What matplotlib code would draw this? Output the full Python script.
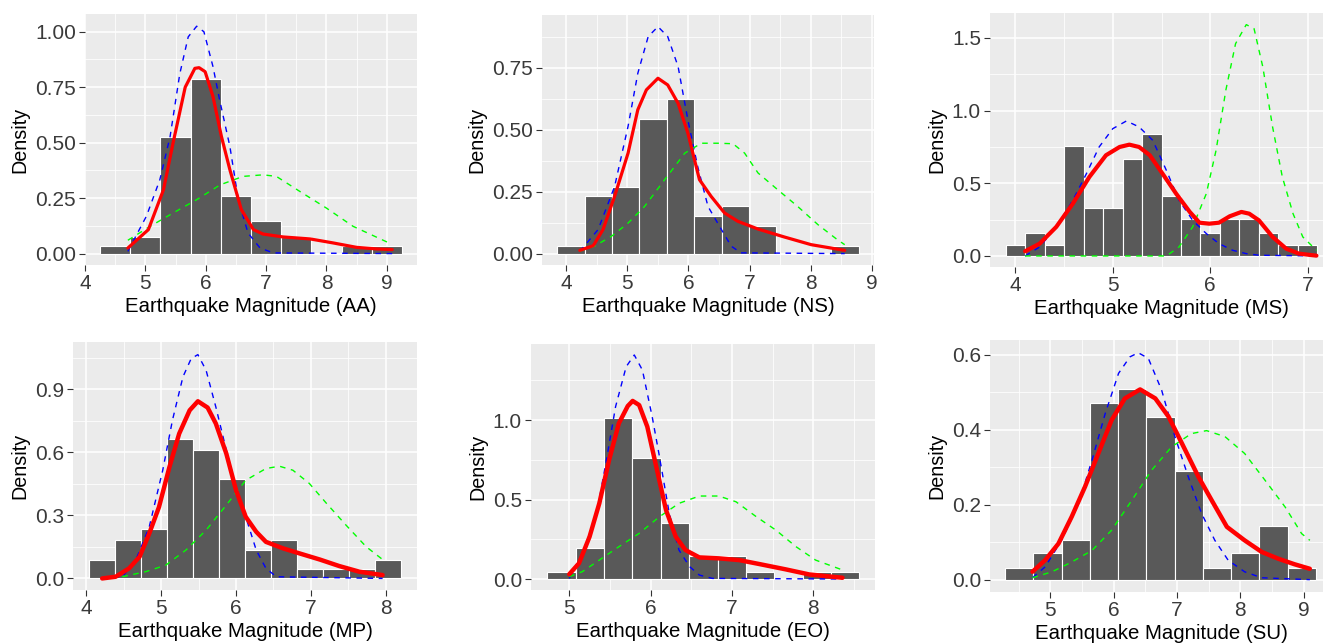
import numpy as np
import matplotlib
matplotlib.use('Agg')
import matplotlib.pyplot as plt
from matplotlib.ticker import MultipleLocator, FixedLocator

plt.rcParams['font.family'] = ['Liberation Sans', 'DejaVu Sans']

#   histogram bins (left edge, width) and densities
aa_start, aa_width = 4.25, 0.5
aa_dens = [0.033, 0.073, 0.526, 0.786, 0.261, 0.145, 0.073, 0.0, 0.033, 0.033]
ns_start, ns_width = 3.85, 0.449
ns_dens = [0.032, 0.233, 0.268, 0.542, 0.623, 0.153, 0.19, 0.113, 0.0, 0.0, 0.032]
ms_start, ms_width = 3.9, 0.2
ms_dens = [0.078, 0.16, 0.078, 0.755, 0.333, 0.333, 0.67, 0.842,
           0.413, 0.252, 0.16, 0.252, 0.252, 0.16, 0.078, 0.078]
mp_start, mp_width = 4.03, 0.348
mp_dens = [0.087, 0.185, 0.233, 0.662, 0.613, 0.472, 0.135, 0.185, 0.043, 0.043, 0.043, 0.087]
eo_start, eo_width = 4.73, 0.349
eo_dens = [0.042, 0.193, 1.01, 0.759, 0.35, 0.147, 0.147, 0.042, 0.0, 0.042, 0.042]
su_start, su_width = 4.29, 0.446
su_dens = [0.031, 0.07, 0.105, 0.472, 0.508, 0.435, 0.29, 0.031, 0.07, 0.144, 0.031]

#   red: kernel density (solid)
aa_red_x = [4.71, 5.05, 5.30, 5.46, 5.66, 5.82, 5.89, 5.99, 6.12, 6.26, 6.40, 6.59, 6.79, 6.95, 7.28, 7.73, 8.11, 8.50, 8.83, 9.09]
aa_red_y = [0.025, 0.108, 0.288, 0.50, 0.75, 0.835, 0.838, 0.82, 0.708, 0.528, 0.378, 0.198, 0.108, 0.088, 0.075, 0.066, 0.048, 0.028, 0.021, 0.018]
ns_red_x = [4.22, 4.44, 4.60, 4.79, 5.01, 5.17, 5.31, 5.50, 5.66, 5.83, 5.99, 6.18, 6.37, 6.59, 6.81, 7.14, 7.57, 8.01, 8.56]
ns_red_y = [0.013, 0.032, 0.097, 0.231, 0.405, 0.58, 0.66, 0.707, 0.68, 0.606, 0.486, 0.298, 0.231, 0.164, 0.130, 0.099, 0.067, 0.036, 0.013]
ms_red_x = [4.10, 4.25, 4.42, 4.59, 4.76, 4.93, 5.07, 5.17, 5.27, 5.38, 5.51, 5.65, 5.79, 5.89, 5.99, 6.09, 6.20, 6.32, 6.40, 6.50, 6.64, 6.78, 6.91, 7.09]
ms_red_y = [0.032, 0.085, 0.20, 0.36, 0.544, 0.693, 0.75, 0.766, 0.75, 0.693, 0.567, 0.429, 0.303, 0.229, 0.222, 0.229, 0.273, 0.303, 0.291, 0.245, 0.131, 0.05, 0.016, 0.002]
mp_red_x = [4.21, 4.39, 4.57, 4.71, 4.84, 4.97, 5.11, 5.24, 5.38, 5.49, 5.62, 5.73, 5.87, 6.0, 6.13, 6.27, 6.40, 6.63, 6.85, 7.12, 7.38, 7.65, 7.96]
mp_red_y = [0.0, 0.008, 0.048, 0.103, 0.214, 0.34, 0.531, 0.689, 0.80, 0.843, 0.813, 0.737, 0.594, 0.42, 0.293, 0.222, 0.174, 0.143, 0.119, 0.09, 0.059, 0.032, 0.016]
eo_red_x = [5.0, 5.12, 5.25, 5.37, 5.49, 5.61, 5.72, 5.78, 5.86, 5.96, 6.07, 6.19, 6.31, 6.43, 6.60, 6.84, 7.09, 7.34, 7.66, 7.95, 8.36]
eo_red_y = [0.03, 0.099, 0.266, 0.476, 0.748, 0.979, 1.088, 1.12, 1.094, 0.958, 0.707, 0.434, 0.266, 0.182, 0.136, 0.13, 0.119, 0.094, 0.061, 0.029, 0.008]
su_red_x = [4.72, 4.92, 5.13, 5.34, 5.55, 5.76, 5.97, 6.18, 6.42, 6.66, 6.87, 7.08, 7.34, 7.55, 7.79, 8.07, 8.34, 8.60, 8.86, 9.10]
su_red_y = [0.021, 0.052, 0.096, 0.168, 0.248, 0.337, 0.426, 0.484, 0.508, 0.484, 0.435, 0.364, 0.275, 0.212, 0.141, 0.105, 0.074, 0.056, 0.041, 0.029]

#   blue: first fitted component (dashed)
aa_blue_x = [4.71, 5.02, 5.24, 5.41, 5.57, 5.71, 5.85, 5.97, 6.12, 6.23, 6.40, 6.54, 6.70, 6.90, 7.12, 9.09]
aa_blue_y = [0.01, 0.17, 0.333, 0.528, 0.81, 0.977, 1.025, 1.0, 0.843, 0.693, 0.483, 0.243, 0.093, 0.025, 0.003, 0.0]
ns_blue_x = [4.22, 4.52, 4.79, 5.01, 5.17, 5.34, 5.50, 5.66, 5.83, 5.99, 6.15, 6.32, 6.54, 6.70, 6.86, 8.56]
ns_blue_y = [0.009, 0.097, 0.271, 0.513, 0.727, 0.875, 0.915, 0.875, 0.754, 0.539, 0.352, 0.19, 0.097, 0.03, 0.003, 0.0]
ms_blue_x = [4.10, 4.25, 4.42, 4.59, 4.73, 4.86, 5.0, 5.14, 5.27, 5.41, 5.55, 5.68, 5.82, 5.96, 6.09, 6.23, 6.37, 6.50, 7.09]
ms_blue_y = [0.0, 0.062, 0.2, 0.383, 0.567, 0.75, 0.876, 0.929, 0.888, 0.796, 0.589, 0.383, 0.245, 0.154, 0.085, 0.039, 0.016, 0.005, 0.0]
mp_blue_x = [4.21, 4.48, 4.66, 4.84, 5.02, 5.15, 5.29, 5.40, 5.49, 5.60, 5.73, 5.87, 6.0, 6.13, 6.27, 6.40, 6.54, 7.96]
mp_blue_y = [0.0, 0.008, 0.087, 0.246, 0.515, 0.753, 0.959, 1.046, 1.065, 0.99, 0.816, 0.61, 0.436, 0.293, 0.135, 0.048, 0.008, 0.0]
eo_blue_x = [5.0, 5.16, 5.33, 5.45, 5.57, 5.70, 5.80, 5.90, 6.02, 6.11, 6.23, 6.35, 6.48, 6.60, 6.76, 8.36]
eo_blue_y = [0.004, 0.161, 0.392, 0.727, 1.084, 1.335, 1.409, 1.314, 1.021, 0.769, 0.413, 0.182, 0.078, 0.025, 0.004, 0.0]
su_blue_x = [4.72, 4.92, 5.18, 5.45, 5.66, 5.87, 6.08, 6.26, 6.39, 6.55, 6.76, 6.97, 7.18, 7.39, 7.60, 7.81, 8.07, 8.34, 9.10]
su_blue_y = [0.005, 0.034, 0.105, 0.203, 0.319, 0.444, 0.551, 0.595, 0.606, 0.591, 0.506, 0.382, 0.275, 0.177, 0.105, 0.052, 0.021, 0.005, 0.0]

#   green: second fitted component (dashed)
aa_green_x = [4.71, 5.08, 5.46, 5.85, 6.24, 6.62, 6.95, 7.17, 7.56, 8.0, 8.44, 9.02]
aa_green_y = [0.06, 0.123, 0.183, 0.243, 0.31, 0.348, 0.355, 0.348, 0.28, 0.205, 0.123, 0.05]
ns_green_x = [4.22, 4.46, 4.74, 5.01, 5.28, 5.61, 5.94, 6.21, 6.48, 6.73, 6.92, 7.14, 7.46, 7.79, 8.12, 8.44, 8.56]
ns_green_y = [0.01, 0.03, 0.07, 0.123, 0.19, 0.298, 0.405, 0.445, 0.445, 0.443, 0.405, 0.325, 0.258, 0.19, 0.117, 0.056, 0.036]
ms_green_x = [4.10, 5.55, 5.68, 5.82, 5.96, 6.06, 6.16, 6.26, 6.37, 6.45, 6.54, 6.64, 6.74, 6.85, 6.95, 7.09]
ms_green_y = [0.0, 0.0, 0.062, 0.2, 0.429, 0.727, 1.14, 1.461, 1.592, 1.564, 1.30, 0.888, 0.544, 0.291, 0.131, 0.039]
mp_green_x = [4.48, 4.79, 5.06, 5.33, 5.60, 5.87, 6.13, 6.40, 6.58, 6.76, 6.98, 7.21, 7.47, 7.74, 7.96]
mp_green_y = [0.008, 0.032, 0.063, 0.135, 0.23, 0.349, 0.467, 0.523, 0.534, 0.515, 0.452, 0.357, 0.254, 0.151, 0.09]
eo_green_x = [5.0, 5.16, 5.37, 5.61, 5.86, 6.11, 6.35, 6.60, 6.84, 7.05, 7.30, 7.54, 7.79, 8.03, 8.36]
eo_green_y = [0.015, 0.046, 0.119, 0.203, 0.287, 0.392, 0.476, 0.522, 0.522, 0.486, 0.392, 0.308, 0.203, 0.119, 0.057]
su_green_x = [4.72, 5.03, 5.34, 5.66, 5.97, 6.29, 6.60, 6.92, 7.23, 7.47, 7.76, 8.07, 8.39, 8.71, 8.97, 9.10]
su_green_y = [0.005, 0.021, 0.047, 0.078, 0.132, 0.212, 0.292, 0.355, 0.39, 0.398, 0.382, 0.337, 0.266, 0.194, 0.123, 0.105]

labels = ['AA', 'NS', 'MS', 'MP', 'EO', 'SU']

#   layout: panel boxes in pixels (left, top, right, bottom), limits, ticks, red line width
W, H = 1323, 643
panels = [
    dict(box=(85, 14, 417, 265), xlim=(4.0, 9.5), ylim=(-0.0515, 1.08), xt=[4, 5, 6, 7, 8, 9],
         yt=[0, 0.25, 0.5, 0.75, 1.0], fmt='%.2f', lw=2.3,
         hist=(aa_start, aa_width, aa_dens), red=(aa_red_x, aa_red_y),
         blue=(aa_blue_x, aa_blue_y), green=(aa_green_x, aa_green_y)),
    dict(box=(542, 15, 874, 265), xlim=(3.6, 9.04), ylim=(-0.046, 0.962), xt=[4, 5, 6, 7, 8, 9],
         yt=[0, 0.25, 0.5, 0.75], fmt='%.2f', lw=2.3,
         hist=(ns_start, ns_width, ns_dens), red=(ns_red_x, ns_red_y),
         blue=(ns_blue_x, ns_blue_y), green=(ns_green_x, ns_green_y)),
    dict(box=(990, 13, 1333, 267), xlim=(3.74, 7.26), ylim=(-0.076, 1.672), xt=[4, 5, 6, 7],
         yt=[0, 0.5, 1.0, 1.5], fmt='%.1f', lw=3.0,
         hist=(ms_start, ms_width, ms_dens), red=(ms_red_x, ms_red_y),
         blue=(ms_blue_x, ms_blue_y), green=(ms_green_x, ms_green_y)),
    dict(box=(73, 342, 417, 590), xlim=(3.82, 8.42), ylim=(-0.055, 1.125), xt=[4, 5, 6, 7, 8],
         yt=[0, 0.3, 0.6, 0.9], fmt='%.1f', lw=3.2,
         hist=(mp_start, mp_width, mp_dens), red=(mp_red_x, mp_red_y),
         blue=(mp_blue_x, mp_blue_y), green=(mp_green_x, mp_green_y)),
    dict(box=(531, 344, 875, 590), xlim=(4.53, 8.76), ylim=(-0.069, 1.478), xt=[5, 6, 7, 8],
         yt=[0, 0.5, 1.0], fmt='%.1f', lw=3.2,
         hist=(eo_start, eo_width, eo_dens), red=(eo_red_x, eo_red_y),
         blue=(eo_blue_x, eo_blue_y), green=(eo_green_x, eo_green_y)),
    dict(box=(990, 340, 1332, 592), xlim=(4.05, 9.45), ylim=(-0.033, 0.64), xt=[5, 6, 7, 8, 9],
         yt=[0, 0.2, 0.4, 0.6], fmt='%.1f', lw=3.2,
         hist=(su_start, su_width, su_dens), red=(su_red_x, su_red_y),
         blue=(su_blue_x, su_blue_y), green=(su_green_x, su_green_y)),
]

fig = plt.figure(figsize=(W / 100, H / 100), dpi=100)
fig.patch.set_facecolor('white')

for p, lab in zip(panels, labels):
    l, t, r, b = p['box']
    ax = fig.add_axes([l / W, 1 - b / H, (r - l) / W, (b - t) / H])
    ax.set_facecolor('#EBEBEB')
    for s in ax.spines.values():
        s.set_visible(False)

    xstep = p['xt'][1] - p['xt'][0]
    ystep = p['yt'][1] - p['yt'][0]
    ax.xaxis.set_major_locator(FixedLocator(p['xt']))
    ax.yaxis.set_major_locator(FixedLocator(p['yt']))
    ax.xaxis.set_minor_locator(MultipleLocator(xstep / 2))
    ax.yaxis.set_minor_locator(MultipleLocator(ystep / 2))
    ax.grid(which='major', color='white', lw=1.1)
    ax.grid(which='minor', color='white', lw=0.55)
    ax.set_axisbelow(True)
    ax.tick_params(which='minor', length=0)
    ax.tick_params(which='major', length=4, width=0.8, color='#333333',
                   labelsize=15, labelcolor='#3A3A3A', pad=2.5)
    ax.set_yticklabels([p['fmt'] % v for v in p['yt']])
    ax.set_xticklabels([str(v) for v in p['xt']])

    start, width, dens = p['hist']
    edges = start + width * np.arange(len(dens))
    ax.bar(edges, dens, width=width, align='edge', color='#595959',
           edgecolor='white', linewidth=0.8, zorder=2)

    ax.plot(p['blue'][0], p['blue'][1], color='blue', lw=1.0, ls=(0, (4, 4)), zorder=3)
    ax.plot(p['green'][0], p['green'][1], color='#00FF00', lw=1.0, ls=(0, (4, 4)), zorder=3)
    ax.plot(p['red'][0], p['red'][1], color='red', lw=p['lw'], zorder=4,
            solid_joinstyle='round', solid_capstyle='round')

    ax.set_xlim(*p['xlim'])
    ax.set_ylim(*p['ylim'])
    ax.set_xlabel('Earthquake Magnitude (%s)' % lab, fontsize=14.7, labelpad=3)
    ax.set_ylabel('Density', fontsize=14.2, labelpad=4)

plt.savefig('out.png', dpi=100)
